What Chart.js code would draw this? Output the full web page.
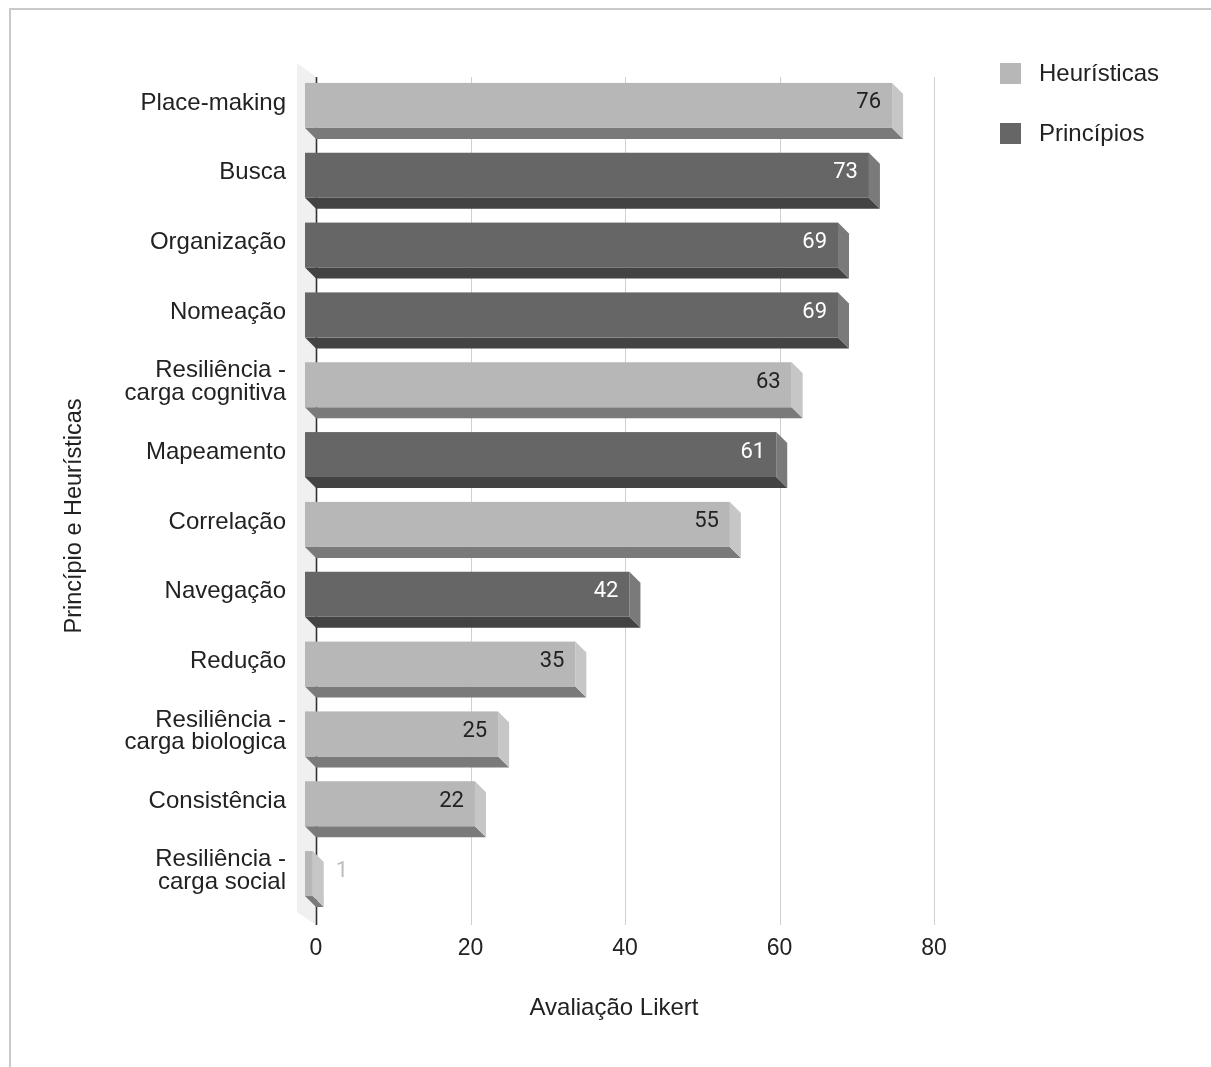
<!DOCTYPE html>
<html>
<head>
<meta charset="utf-8">
<script src="https://cdn.jsdelivr.net/npm/chart.js@4/dist/chart.umd.min.js"></script>
<style>
  html, body { margin: 0; padding: 0; background: #fff; }
  #wrap { position: relative; width: 1211px; height: 1067px; }
</style>
</head>
<body>
<div id="wrap"><canvas id="c"></canvas></div>
<script>
const categories = [
  'Place-making', 'Busca', 'Organização', 'Nomeação',
  ['Resiliência -', 'carga cognitiva'], 'Mapeamento', 'Correlação', 'Navegação',
  'Redução', ['Resiliência -', 'carga biologica'], 'Consistência', ['Resiliência -', 'carga social']
];
const heuristicas = [76, null, null, null, 63, null, 55, null, 35, 25, 22, 1];
const principios  = [null, 73, 69, 69, null, 61, null, 42, null, null, null, null];
const seriesNames = ['Heurísticas', 'Princípios'];
const xTicks = [0, 20, 40, 60, 80];
const xTitle = 'Avaliação Likert';
const yTitle = 'Princípio e Heurísticas';

const FONT = '"Liberation Sans", Arial, Helvetica, sans-serif';
const LABEL_FONT = 'Roboto, "Open Sans", Arial, sans-serif';
const D = 11; // 3D depth offset
const styles = [
  { front: '#b7b7b7', bottom: '#7a7a7a', side: '#c6c6c6', text: '#222222' },
  { front: '#666666', bottom: '#434343', side: '#7a7a7a', text: '#ffffff' }
];

function poly(ctx, pts, color) {
  ctx.beginPath();
  ctx.moveTo(pts[0][0], pts[0][1]);
  for (let i = 1; i < pts.length; i++) ctx.lineTo(pts[i][0], pts[i][1]);
  ctx.closePath();
  ctx.fillStyle = color;
  ctx.fill();
}

const threeD = {
  id: 'threeD',
  beforeDraw(chart) {
    const ctx = chart.ctx;
    ctx.save();
    ctx.fillStyle = '#ffffff';
    ctx.fillRect(0, 0, chart.width, chart.height);
    ctx.fillStyle = '#c9c9c9';
    ctx.fillRect(9, 8, chart.width - 9, 2);
    ctx.fillRect(9, 8, 2, chart.height - 8);
    ctx.restore();
  },
  beforeDatasetsDraw(chart) {
    const { ctx, chartArea: a, scales: { x } } = chart;
    ctx.save();
    poly(ctx, [[a.left - 19, a.top - 5], [a.left, a.top + 9], [a.left, a.bottom + 19], [a.left - 19, a.bottom + 6]], '#f0f0f0');
    xTicks.forEach(v => {
      const px = Math.round(x.getPixelForValue(v)) + 0.5;
      ctx.beginPath();
      ctx.moveTo(px, a.top + 9);
      ctx.lineTo(px, a.bottom + 19);
      ctx.strokeStyle = v === 0 ? '#333333' : '#d0d0d0';
      ctx.lineWidth = v === 0 ? 1.6 : 1;
      ctx.stroke();
    });
    ctx.restore();
  },
  beforeDatasetDraw() { return false; },
  afterDatasetsDraw(chart) {
    const ctx = chart.ctx;
    ctx.save();
    chart.data.datasets.forEach((ds, di) => {
      const meta = chart.getDatasetMeta(di);
      const st = styles[di];
      meta.data.forEach((el, i) => {
        const v = ds.data[i];
        if (v === null || v === undefined) return;
        const bx0 = el.base, bx1 = el.x;
        const fx0 = bx0 - D, fx1 = bx1 - D;
        const ft = el.y - 20, fb = el.y + 25;
        poly(ctx, [[fx0, fb], [fx1, fb], [bx1, fb + D], [bx0, fb + D]], st.bottom);
        poly(ctx, [[fx1, ft], [bx1, ft + D], [bx1, fb + D], [fx1, fb]], st.side);
        ctx.fillStyle = st.front;
        ctx.fillRect(fx0, ft, fx1 - fx0, fb - ft);
        ctx.font = '22px ' + LABEL_FONT;
        ctx.textBaseline = 'middle';
        const txt = String(v);
        const w = ctx.measureText(txt).width;
        if (fx1 - fx0 > w + 16) {
          ctx.textAlign = 'right';
          ctx.fillStyle = st.text;
          ctx.fillText(txt, fx1 - 11, el.y);
        } else {
          ctx.textAlign = 'left';
          ctx.fillStyle = '#bdbdbd';
          ctx.fillText(txt, bx1 + 12, el.y);
        }
      });
    });
    ctx.restore();
  },
  afterDraw(chart) {
    const { ctx, chartArea: a } = chart;
    ctx.save();
    chart.data.datasets.forEach((ds, di) => {
      const y0 = 63 + di * 60;
      ctx.fillStyle = ds.backgroundColor;
      ctx.fillRect(1000, y0, 21, 21);
      ctx.fillStyle = '#222222';
      ctx.font = '24px ' + FONT;
      ctx.textAlign = 'left';
      ctx.textBaseline = 'middle';
      ctx.fillText(ds.label, 1039, y0 + 11);
    });
    ctx.fillStyle = '#222222';
    ctx.font = '24px ' + FONT;
    ctx.textAlign = 'center';
    ctx.textBaseline = 'middle';
    ctx.fillText(xTitle, (a.left + a.right) / 2 - D, 1008);
    ctx.translate(75, 516);
    ctx.rotate(-Math.PI / 2);
    ctx.font = '23.5px ' + FONT;
    ctx.fillText(yTitle, 0, 0);
    ctx.restore();
  }
};

new Chart(document.getElementById('c'), {
  type: 'bar',
  data: {
    labels: categories,
    datasets: [
      { label: seriesNames[0], data: heuristicas, backgroundColor: styles[0].front },
      { label: seriesNames[1], data: principios, backgroundColor: styles[1].front }
    ]
  },
  options: {
    indexAxis: 'y',
    responsive: true,
    maintainAspectRatio: false,
    animation: false,
    skipNull: true,
    layout: { padding: { top: 68, right: 277, bottom: 0, left: 0 } },
    plugins: { legend: { display: false }, tooltip: { enabled: false } },
    scales: {
      x: {
        min: 0, max: 80,
        afterFit(s) { s.height = 161; },
        afterBuildTicks(s) { s.ticks = xTicks.map(v => ({ value: v })); },
        grid: { display: false, drawTicks: false },
        border: { display: false },
        ticks: { color: '#222222', padding: 29, font: { family: FONT, size: 23 } }
      },
      y: {
        afterFit(s) { s.width = 316; },
        grid: { display: false, drawTicks: false },
        border: { display: false },
        ticks: { color: '#222222', padding: 30, font: { family: FONT, size: 24, lineHeight: 0.95 } }
      }
    }
  },
  plugins: [threeD]
});
</script>
</body>
</html>
